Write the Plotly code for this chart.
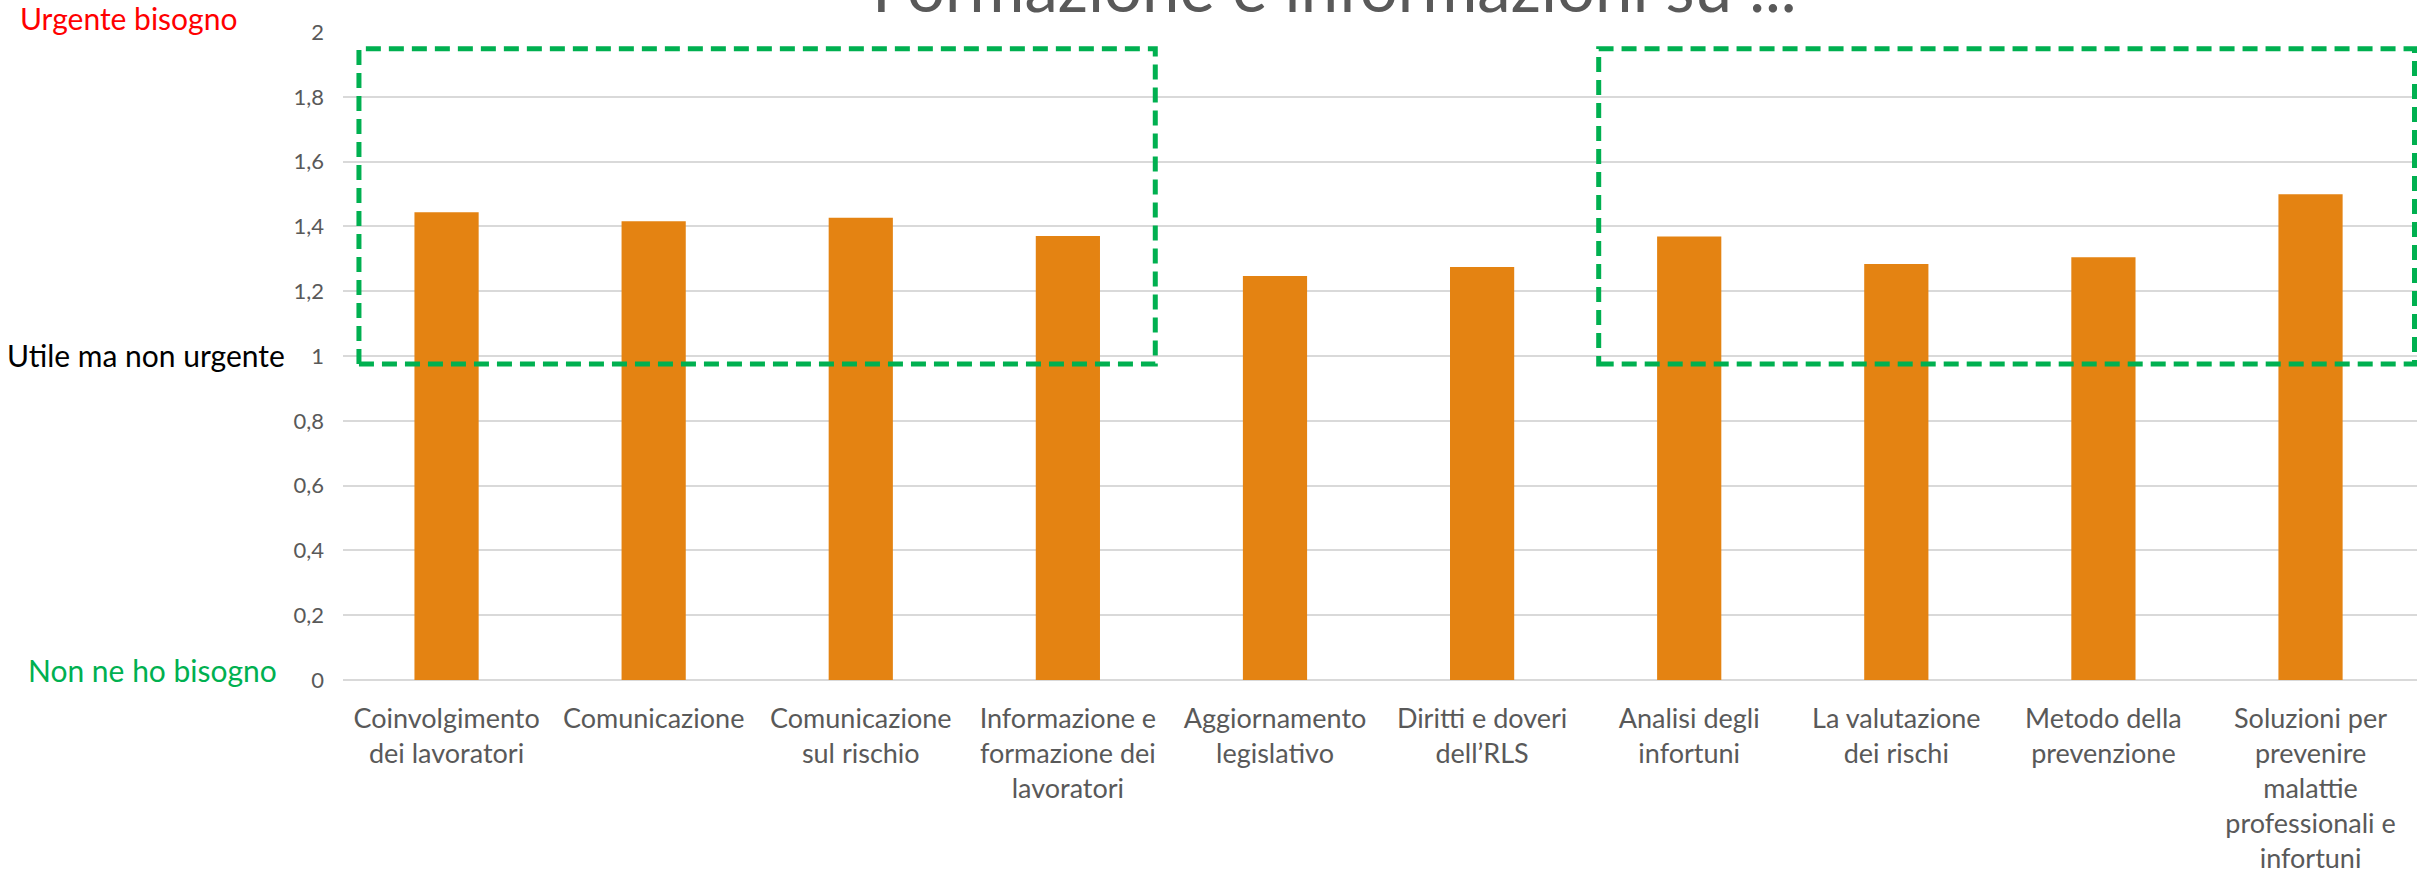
import plotly.graph_objects as go

# Survey averages: 0 = "Non ne ho bisogno", 1 = "Utile ma non urgente", 2 = "Urgente bisogno"
categories = [
    "Coinvolgimento<br>dei lavoratori",
    "Comunicazione",
    "Comunicazione<br>sul rischio",
    "Informazione e<br>formazione dei<br>lavoratori",
    "Aggiornamento<br>legislativo",
    "Diritti e doveri<br>dell’RLS",
    "Analisi degli<br>infortuni",
    "La valutazione<br>dei rischi",
    "Metodo della<br>prevenzione",
    "Soluzioni per<br>prevenire<br>malattie<br>professionali e<br>infortuni",
]
values = [1.444, 1.416, 1.427, 1.370, 1.247, 1.275, 1.369, 1.284, 1.305, 1.499]

y_ticks = [0, 0.2, 0.4, 0.6, 0.8, 1, 1.2, 1.4, 1.6, 1.8, 2]

# Highlighted groups of topics (category index ranges and value band)
highlight_groups = [
    {"x0": -0.423, "x1": 3.422, "y0": 0.975, "y1": 1.948},
    {"x0": 5.563, "x1": 9.502, "y0": 0.975, "y1": 1.948},
]

scale_labels = [
    {"text": "Urgente bisogno", "y": 2, "color": "#FF0000", "x": -0.05, "shift": 14},
    {"text": "Utile ma non urgente", "y": 1, "color": "#000000", "x": -0.027, "shift": 1},
    {"text": "Non ne ho bisogno", "y": 0, "color": "#00B050", "x": -0.031, "shift": 10},
]

title_text = "Formazione e informazioni su ..."

FONT = "Lato, 'Open Sans', sans-serif"
GRAY = "#595959"

fig = go.Figure(
    go.Bar(
        x=categories,
        y=values,
        marker=dict(color="#E48312", line=dict(width=0)),
        hoverinfo="skip",
    )
)

fig.update_layout(
    width=2432,
    height=875,
    margin=dict(l=343, r=15, t=32, b=195, autoexpand=False),
    paper_bgcolor="white",
    plot_bgcolor="white",
    separators=",.",
    bargap=0.69,
    showlegend=False,
    font=dict(family=FONT, color=GRAY),
)

fig.update_xaxes(
    type="category",
    automargin=False,
    showgrid=False,
    showline=False,
    ticks="",
    tickfont=dict(size=27, color=GRAY, family=FONT),
    ticklabelstandoff=20,
    tickangle=0,
)

fig.update_yaxes(
    range=[0, 2],
    automargin=False,
    tickvals=y_ticks,
    tickformat=",.1~f",
    showgrid=True,
    gridcolor="#D9D9D9",
    gridwidth=1.5,
    zeroline=True,
    zerolinecolor="#D9D9D9",
    zerolinewidth=1.5,
    showline=False,
    ticks="",
    tickfont=dict(size=22, color=GRAY, family=FONT),
    ticklabelstandoff=18,
)

for g in highlight_groups:
    fig.add_shape(
        type="rect",
        xref="x",
        yref="y",
        x0=g["x0"],
        x1=g["x1"],
        y0=g["y0"],
        y1=g["y1"],
        line=dict(color="#00B050", width=5, dash="15px,8px"),
        fillcolor="rgba(0,0,0,0)",
        layer="above",
    )

for lab in scale_labels:
    fig.add_annotation(
        text=lab["text"],
        xref="paper",
        yref="y",
        x=lab["x"],
        y=lab["y"],
        xanchor="right",
        yanchor="middle",
        yshift=lab["shift"],
        showarrow=False,
        font=dict(size=30, color=lab["color"], family=FONT),
    )

fig.add_annotation(
    text=title_text,
    xref="paper",
    yref="paper",
    x=0.478,
    y=1.0,
    xanchor="center",
    yanchor="bottom",
    yshift=4,
    showarrow=False,
    font=dict(size=67, color=GRAY, family=FONT),
)

fig.write_html("out.html")
